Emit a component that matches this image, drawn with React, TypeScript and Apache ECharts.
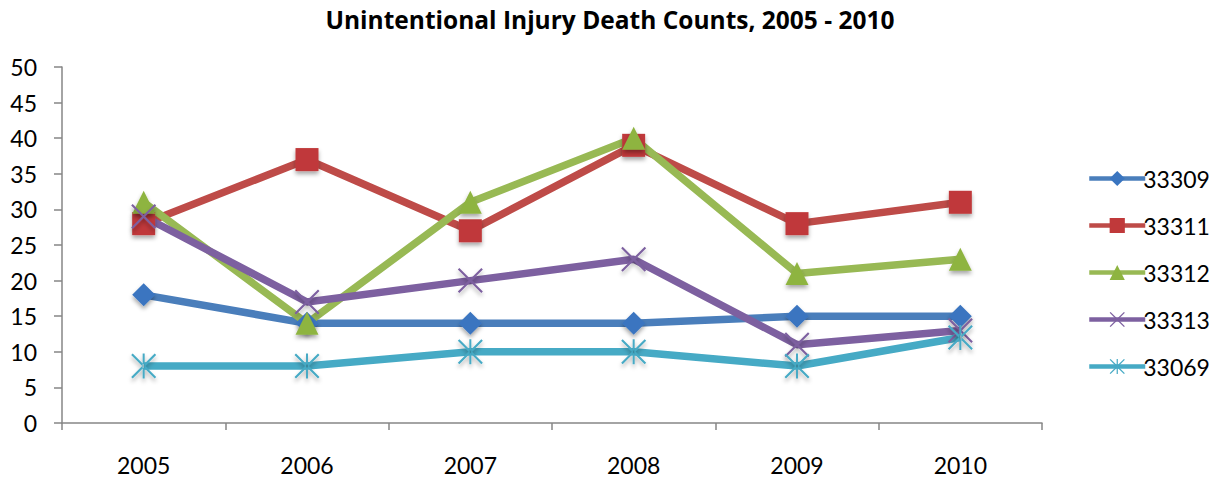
import React, { useEffect, useRef } from "react";
import * as echarts from "echarts";

const categories = ["2005", "2006", "2007", "2008", "2009", "2010"];
const seriesNames = ["33309", "33311", "33312", "33313", "33069"];
const s33309 = [18, 14, 14, 14, 15, 15];
const s33311 = [28, 37, 27, 39, 28, 31];
const s33312 = [31, 14, 31, 40, 21, 23];
const s33313 = [29, 17, 20, 23, 11, 13];
const s33069 = [8, 8, 10, 10, 8, 12];

const lineColors = ["#4A7EBB", "#BE4B48", "#98B954", "#7D60A0", "#46AAC5"];
const markerColors = ["#3A75C0", "#C0393A", "#8EB440", "#7D60A0", "#46AAC5"];

const X_PATH =
  "path://M0,1.2 L1.2,0 L10,8.8 L18.8,0 L20,1.2 L11.2,10 L20,18.8 L18.8,20 L10,11.2 L1.2,20 L0,18.8 L8.8,10 Z";
const STAR_PATH =
  "path://M0,1.2 L1.2,0 L10,8.8 L18.8,0 L20,1.2 L11.2,10 L20,18.8 L18.8,20 L10,11.2 L1.2,20 L0,18.8 L8.8,10 Z M9.2,0 L9.2,20 L10.8,20 L10.8,0 Z";

const symbols = ["diamond", "rect", "triangle", X_PATH, STAR_PATH];
const symbolSizes = [23, 23, 23, 25, 25];

export default function App() {
  const ref = useRef<HTMLDivElement>(null);
  useEffect(() => {
    document.body.style.margin = "0";
    if (!ref.current) return;
    const chart = echarts.init(ref.current, null, { renderer: "svg" });
    const data = [s33309, s33311, s33312, s33313, s33069];
    const font = "Lato, 'Noto Sans', sans-serif";
    chart.setOption({
      animation: false,
      backgroundColor: "#ffffff",
      title: {
        text: "Unintentional Injury Death Counts, 2005 - 2010",
        left: 605,
        textAlign: "center",
        top: 2,
        textStyle: { fontFamily: "'Open Sans', sans-serif", fontSize: 24.5, fontWeight: "bold", color: "#000" },
      },
      grid: { left: 62, right: 174, top: 67, bottom: 58, containLabel: false },
      legend: {
        orient: "vertical",
        left: 1082,
        top: 162,
        itemWidth: 56,
        itemHeight: 19,
        itemGap: 24,
        textStyle: { fontFamily: font, fontSize: 23, color: "#000", padding: [0, 0, 0, -7] },
        lineStyle: { width: 4.5 },
        data: seriesNames,
      },
      xAxis: {
        type: "category",
        data: categories,
        boundaryGap: true,
        axisLine: { lineStyle: { color: "#868686", width: 1.5 } },
        axisTick: { show: true, length: 7, lineStyle: { color: "#868686", width: 1.5 } },
        axisLabel: { fontFamily: font, fontSize: 23, color: "#000", margin: 30 },
      },
      yAxis: {
        type: "value",
        min: 0,
        max: 50,
        interval: 5,
        splitLine: { show: false },
        axisLine: { show: true, lineStyle: { color: "#868686", width: 1.5 } },
        axisTick: { show: true, length: 8, lineStyle: { color: "#868686", width: 1.5 } },
        axisLabel: { fontFamily: font, fontSize: 23, color: "#000", margin: 25 },
      },
      series: seriesNames.map((name, i) => ({
        name,
        type: "line",
        data: data[i],
        symbol: symbols[i],
        symbolSize: symbolSizes[i],
        showAllSymbol: true,
        lineStyle: { width: 7.5, color: lineColors[i] },
        itemStyle: {
          color: markerColors[i],
          shadowBlur: 4,
          shadowColor: "rgba(0,0,0,0.35)",
          shadowOffsetY: 3,
        },
        emphasis: { disabled: true },
      })),
    });
    return () => chart.dispose();
  }, []);
  return <div ref={ref} style={{ width: 1216, height: 481 }} />;
}
